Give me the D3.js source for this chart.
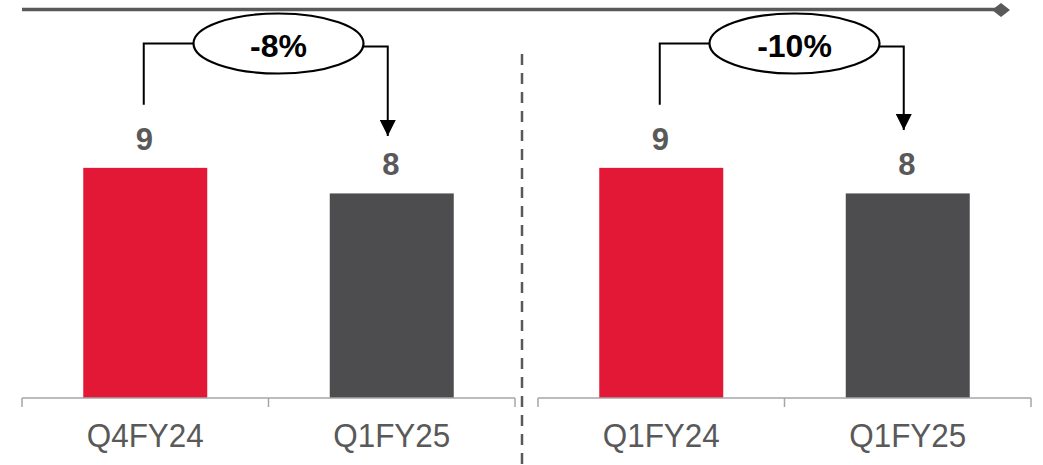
<!DOCTYPE html>
<html>
<head>
<meta charset="utf-8">
<script src="https://cdn.jsdelivr.net/npm/d3@7/dist/d3.min.js"></script>
<style>
  html, body { margin: 0; padding: 0; background: #fff; }
  svg { display: block; font-family: "Liberation Sans", Arial, sans-serif; }
</style>
</head>
<body>
<svg id="chart" width="1043" height="465"></svg>
<script>
// ---- data ----
const leftCategories = ["Q4FY24", "Q1FY25"];
const leftValues = [9, 8];
const rightCategories = ["Q1FY24", "Q1FY25"];
const rightValues = [9, 8];
const changeLabels = ["-8%", "-10%"];
const barColors = ["#E31837", "#4D4D4F"];

// ---- layout ----
const svg = d3.select("#chart");
const baseY = 398;
const y = d3.scaleLinear().domain([0, 14]).range([baseY, 40]);

const panels = [
  { cats: leftCategories, vals: leftValues, change: changeLabels[0], range: [22, 515], arrowTip: 136 },
  { cats: rightCategories, vals: rightValues, change: changeLabels[1], range: [538, 1031], arrowTip: 130 }
];

// top line with diamond end
svg.append("line")
  .attr("x1", 22).attr("x2", 1000)
  .attr("y1", 9.5).attr("y2", 9.5)
  .attr("stroke", "#595959").attr("stroke-width", 3.5);
svg.append("path")
  .attr("d", "M992,10 L1001,3 L1010,10 L1001,17 Z")
  .attr("fill", "#595959");

// dashed divider
svg.append("line")
  .attr("x1", 522).attr("x2", 522)
  .attr("y1", 54).attr("y2", 465)
  .attr("stroke", "#595959").attr("stroke-width", 2.5)
  .attr("stroke-dasharray", "11,8");

// arrow marker
svg.append("defs").append("marker")
  .attr("id", "arrow")
  .attr("viewBox", "0 0 10 10")
  .attr("refX", 10).attr("refY", 5)
  .attr("markerUnits", "userSpaceOnUse")
  .attr("markerWidth", 16).attr("markerHeight", 16)
  .attr("orient", "auto")
  .append("path")
  .attr("d", "M0,0 L10,5 L0,10 Z")
  .attr("fill", "#000");

panels.forEach((p) => {
  const x = d3.scaleBand()
    .domain(p.cats)
    .range(p.range)
    .paddingInner(0.497)
    .paddingOuter(0.2485);
  const g = svg.append("g");
  const step = x.step();

  // bars
  g.selectAll("rect.bar")
    .data(p.cats.map((c, i) => ({ c, v: p.vals[i], i })))
    .join("rect")
    .attr("class", "bar")
    .attr("x", d => x(d.c))
    .attr("width", x.bandwidth())
    .attr("y", d => y(d.v))
    .attr("height", d => baseY - y(d.v))
    .attr("fill", d => barColors[d.i]);

  // value labels
  g.selectAll("text.val")
    .data(p.cats.map((c, i) => ({ c, v: p.vals[i] })))
    .join("text")
    .attr("class", "val")
    .attr("x", d => x(d.c) + x.bandwidth() / 2 - 1)
    .attr("y", d => y(d.v) - 18)
    .attr("text-anchor", "middle")
    .attr("font-size", 31)
    .attr("font-weight", "bold")
    .attr("fill", "#595959")
    .text(d => d3.format("d")(d.v));

  // axis line + ticks
  g.append("line")
    .attr("x1", p.range[0]).attr("x2", p.range[1])
    .attr("y1", baseY).attr("y2", baseY)
    .attr("stroke", "#a6a6a6").attr("stroke-width", 1.5);
  const tickXs = [p.range[0]].concat(p.cats.map(c => x(c) + x.bandwidth() / 2 + step / 2));
  g.selectAll("line.tick")
    .data(tickXs)
    .join("line")
    .attr("class", "tick")
    .attr("x1", d => d).attr("x2", d => d)
    .attr("y1", baseY).attr("y2", baseY + 9)
    .attr("stroke", "#a6a6a6").attr("stroke-width", 1.5);

  // category labels
  g.selectAll("text.cat")
    .data(p.cats)
    .join("text")
    .attr("class", "cat")
    .attr("x", d => x(d) + x.bandwidth() / 2)
    .attr("y", 447)
    .attr("text-anchor", "middle")
    .attr("font-size", 33)
    .attr("fill", "#595959")
    .attr("textLength", 117)
    .attr("lengthAdjust", "spacingAndGlyphs")
    .text(d => d);

  // change annotation
  const x1 = x(p.cats[0]) + x.bandwidth() / 2 - 1.5;
  const x2 = x(p.cats[1]) + x.bandwidth() / 2 - 4;
  const cx = (p.range[0] + p.range[1]) / 2 + 10;
  const cy = 43.5;
  const rx = 85, ry = 30;
  g.append("path")
    .attr("d", `M${x1},${y(p.vals[0]) - 63} L${x1},${cy} L${cx - rx},${cy}`)
    .attr("fill", "none").attr("stroke", "#000").attr("stroke-width", 2);
  g.append("path")
    .attr("d", `M${cx + rx},${cy + 3} L${x2},${cy + 3} L${x2},${p.arrowTip}`)
    .attr("fill", "none").attr("stroke", "#000").attr("stroke-width", 2)
    .attr("marker-end", "url(#arrow)");
  g.append("ellipse")
    .attr("cx", cx).attr("cy", cy).attr("rx", rx).attr("ry", ry)
    .attr("fill", "#fff").attr("stroke", "#000").attr("stroke-width", 2.2);
  g.append("text")
    .attr("x", cx).attr("y", cy + 13)
    .attr("text-anchor", "middle")
    .attr("font-size", 32).attr("font-weight", "bold")
    .attr("fill", "#000")
    .text(p.change);
});
</script>
</body>
</html>
